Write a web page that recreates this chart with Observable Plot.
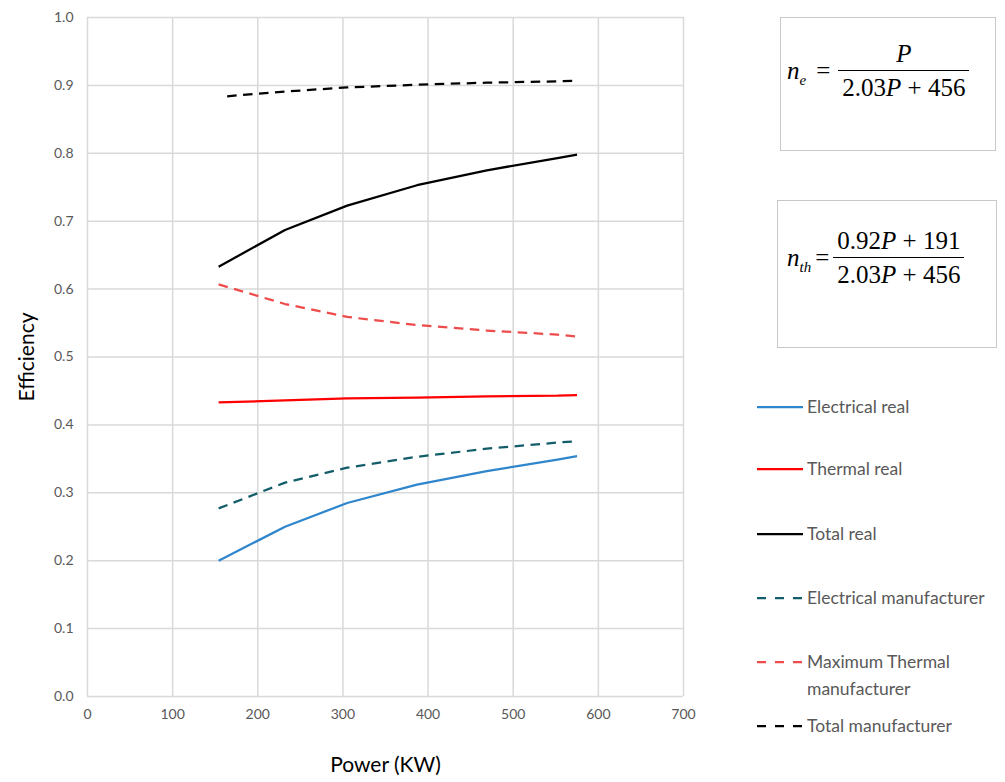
<!DOCTYPE html>
<html>
<head>
<meta charset="utf-8">
<script src="https://cdn.jsdelivr.net/npm/d3@7"></script>
<script src="https://cdn.jsdelivr.net/npm/@observablehq/plot@0.6"></script>
<style>
  html, body { margin: 0; padding: 0; background: #fff; }
  #wrap { position: relative; width: 1005px; height: 782px; overflow: hidden; }
  #wrap > svg { position: absolute; left: 0; top: 0; }
  .box { position: absolute; border: 1.5px solid #c8c8c8; box-sizing: border-box; background: #fff; }
  .eq { position: absolute; font-family: "Liberation Serif", serif; font-size: 25px; color: #000; display: flex; align-items: center; }
  .eq i { font-style: italic; }
  .frac { display: inline-flex; flex-direction: column; align-items: center; margin-left: 8px; }
  .frac .num { padding: 0 2px 2px 2px; border-bottom: 1.5px solid #000; width: 100%; text-align: center; }
  .frac .den { padding: 3px 2px 0 2px; }
  .sub { font-size: 15px; font-style: italic; position: relative; top: 6px; }
  .leg { position: absolute; left: 757px; top: 0; font-family: Lato, "Open Sans", sans-serif; font-size: 17.5px; color: #595959; }
  .leg .row { position: absolute; white-space: nowrap; display: flex; align-items: flex-start; line-height: 27px; }
  .leg svg { margin-top: 12px; margin-right: 4px; flex: none; }
</style>
</head>
<body>
<div id="wrap"></div>
<script>
// ---- data ----
const pReal = [154, 232, 305, 387, 469, 552, 575];
const electricalReal = [0.200, 0.250, 0.285, 0.312, 0.332, 0.349, 0.354];
const thermalReal = [0.433, 0.436, 0.439, 0.440, 0.442, 0.443, 0.444];
const totalReal = [0.633, 0.687, 0.723, 0.753, 0.775, 0.793, 0.798];

const pManuf = [154, 232, 305, 387, 469, 552, 575];
const electricalManuf = [0.277, 0.315, 0.337, 0.353, 0.365, 0.374, 0.376];
const thermalManuf = [0.607, 0.578, 0.559, 0.547, 0.539, 0.533, 0.530];
const pTotalManuf = [164, 232, 305, 387, 469, 552, 575];
const totalManuf = [0.884, 0.891, 0.897, 0.901, 0.904, 0.906, 0.907];

const xTicks = [0, 100, 200, 300, 400, 500, 600, 700];
const yTicks = [0, 0.1, 0.2, 0.3, 0.4, 0.5, 0.6, 0.7, 0.8, 0.9, 1.0];

const seriesNames = ["Electrical real", "Thermal real", "Total real", "Electrical manufacturer", "Maximum Thermal manufacturer", "Total manufacturer"];
const seriesColors = ["#2f86cc", "#ff0000", "#000000", "#135d6a", "#ee4b4b", "#000000"];
const seriesDashed = [false, false, false, true, true, true];

const series = [
  {p: pReal, v: electricalReal},
  {p: pReal, v: thermalReal},
  {p: pReal, v: totalReal},
  {p: pManuf, v: electricalManuf},
  {p: pManuf, v: thermalManuf},
  {p: pTotalManuf, v: totalManuf}
];

const rows = series.flatMap((s, i) => s.p.map((p, j) => ({name: seriesNames[i], idx: i, P: p, eff: s.v[j]})));

const lineMarks = seriesNames.map((n, i) =>
  Plot.line(rows.filter(d => d.idx === i), {
    x: "P", y: "eff",
    stroke: seriesColors[i],
    strokeWidth: 2.25,
    strokeDasharray: seriesDashed[i] ? "9.5,6.5" : null,
    strokeLinecap: "butt"
  })
);

const chart = Plot.plot({
  width: 1005,
  height: 782,
  marginLeft: 87,
  marginRight: 322,
  marginTop: 17,
  marginBottom: 86,
  style: {fontFamily: "Lato, 'Open Sans', sans-serif", background: "#fff"},
  x: {domain: [0, 700]},
  y: {domain: [0, 1]},
  marks: [
    Plot.gridX(xTicks, {stroke: "#d9d9d9", strokeOpacity: 1, strokeWidth: 1.5}),
    Plot.gridY(yTicks, {stroke: "#d9d9d9", strokeOpacity: 1, strokeWidth: 1.5}),
    Plot.axisX(xTicks, {tickSize: 0, tickPadding: 13, fontSize: 14, fill: "#595959", label: null}),
    Plot.axisY(yTicks, {tickSize: 0, tickPadding: 14, fontSize: 14, fill: "#595959", tickFormat: d3.format(".1f"), label: null}),
    ...lineMarks,
    Plot.text(["Efficiency"], {frameAnchor: "left", dx: -60, rotate: -90, textAnchor: "middle", fontSize: 21, fill: "#000"}),
    Plot.text(["Power (KW)"], {frameAnchor: "bottom", dy: 75, textAnchor: "middle", fontSize: 21, fill: "#000"})
  ]
});

const wrap = document.getElementById("wrap");
wrap.appendChild(chart);

// equation boxes
function addBox(left, top, w, h, html, eqLeft, eqTop) {
  const b = document.createElement("div");
  b.className = "box";
  Object.assign(b.style, {left: left + "px", top: top + "px", width: w + "px", height: h + "px"});
  wrap.appendChild(b);
  const e = document.createElement("div");
  e.className = "eq";
  e.innerHTML = html;
  Object.assign(e.style, {left: eqLeft + "px", top: eqTop + "px"});
  wrap.appendChild(e);
}
addBox(780, 17, 216, 134,
  '<span><i>n</i><span class="sub">e</span></span><span style="margin-left:10px">=</span><span class="frac" style="margin-left:10px"><span class="num"><i>P</i></span><span class="den">2.03<i>P</i> + 456</span></span>',
  787, 40);
addBox(777, 200, 220, 148,
  '<span><i>n</i><span class="sub">th</span></span><span style="margin-left:4px">=</span><span class="frac" style="margin-left:6px"><span class="num">0.92<i>P</i> + 191</span><span class="den">2.03<i>P</i> + 456</span></span>',
  787, 227);

// legend
const leg = document.createElement("div");
leg.className = "leg";
const legTops = [393, 455, 520, 584, 648, 712];
seriesNames.forEach((n, i) => {
  const r = document.createElement("div");
  r.className = "row";
  r.style.top = legTops[i] + "px";
  const label = n === "Maximum Thermal manufacturer" ? "Maximum Thermal<br>manufacturer" : n;
  r.innerHTML = `<svg width="46" height="4"><line x1="0" x2="46" y1="2" y2="2" stroke="${seriesColors[i]}" stroke-width="2.25" ${seriesDashed[i] ? 'stroke-dasharray="9,9"' : ''}/></svg><span>${label}</span>`;
  leg.appendChild(r);
});
wrap.appendChild(leg);
</script>
</body>
</html>
